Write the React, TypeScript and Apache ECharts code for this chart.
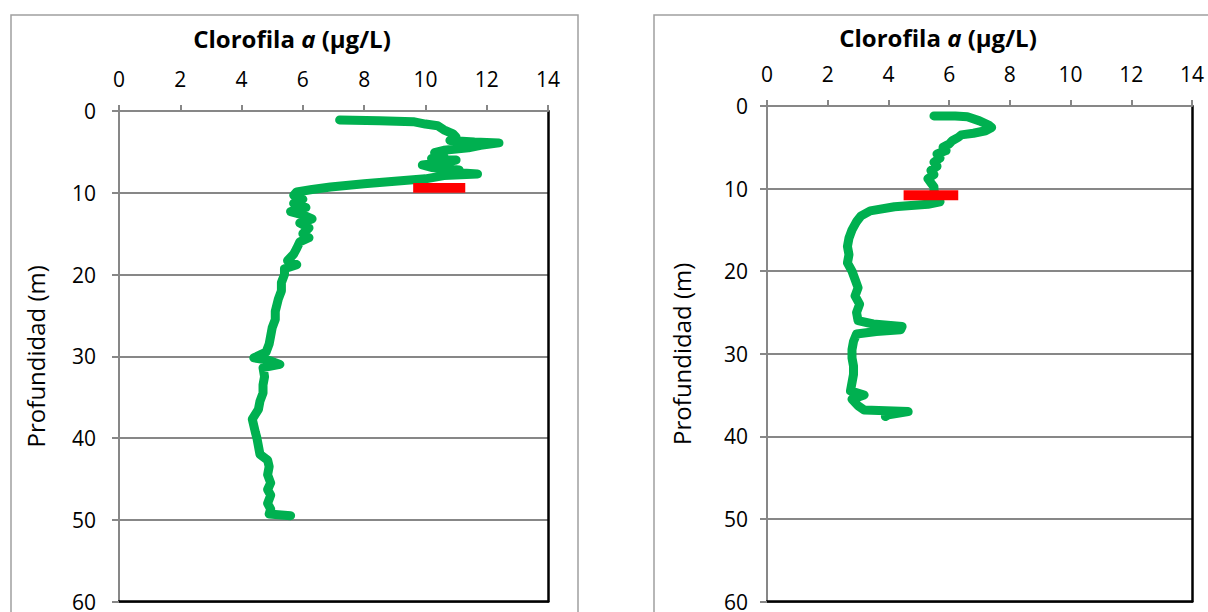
import React, { useEffect, useRef } from "react";
import * as echarts from "echarts";

const xTicksMax = 14;
const depthMax = 60;

const profileLeft: [number, number][] = [
  [7.2, 1.1], [8.5, 1.2], [9.6, 1.3], [10.0, 1.6], [10.4, 1.8], [10.6, 2.3], [10.9, 2.8], [11.0, 3.2],
  [10.8, 3.6], [11.6, 3.8], [12.4, 3.9], [11.8, 4.2], [11.4, 4.5], [10.6, 4.8], [10.3, 5.1], [10.6, 5.5],
  [10.2, 5.8], [11.0, 6.0], [10.6, 6.3], [9.9, 6.6], [10.2, 6.9], [11.1, 7.2], [10.5, 7.4], [11.7, 7.7],
  [10.6, 7.9], [10.0, 8.3], [9.0, 8.6], [8.0, 8.9], [6.9, 9.3], [6.3, 9.6], [5.8, 9.9], [5.7, 10.3],
  [6.0, 10.8], [5.7, 11.3], [6.1, 11.8], [5.6, 12.3], [6.0, 12.7], [6.3, 13.2], [5.9, 13.7], [6.2, 14.3],
  [6.0, 15.0], [6.2, 15.5], [5.9, 16.0], [5.8, 16.8], [5.7, 17.5], [5.5, 18.3], [5.8, 18.8], [5.4, 19.3],
  [5.4, 20.0], [5.3, 21.0], [5.3, 22.0], [5.2, 23.0], [5.1, 24.5], [5.1, 25.5], [5.0, 26.5], [4.95, 27.5],
  [4.9, 28.5], [4.8, 29.5], [4.4, 30.2], [4.9, 30.5], [5.25, 31.0], [4.7, 31.4], [4.75, 32.5], [4.7, 33.5],
  [4.7, 34.5], [4.6, 35.5], [4.55, 36.5], [4.35, 37.7], [4.4, 38.5], [4.45, 39.3], [4.5, 40.0], [4.55, 41.0],
  [4.6, 42.0], [4.85, 42.7], [4.9, 43.5], [4.85, 44.5], [4.95, 45.5], [4.85, 46.3], [4.95, 47.0], [4.85, 48.0],
  [4.95, 48.7], [4.9, 49.3], [5.6, 49.5],
];

const profileRight: [number, number][] = [
  [5.5, 1.2], [6.2, 1.2], [6.6, 1.3], [7.0, 1.8], [7.3, 2.3], [7.4, 2.6], [7.2, 3.0], [6.8, 3.3],
  [6.4, 3.5], [6.3, 3.8], [6.1, 4.2], [6.0, 4.6], [5.8, 5.0], [5.9, 5.4], [5.6, 5.8], [5.7, 6.3],
  [5.5, 6.8], [5.6, 7.3], [5.4, 7.8], [5.5, 8.3], [5.3, 8.8], [5.4, 9.3], [5.5, 9.8], [5.5, 10.3],
  [5.6, 11.0], [5.7, 11.6], [5.3, 11.9], [4.2, 12.2], [3.4, 12.7], [3.1, 13.3], [2.95, 14.0], [2.8, 15.0],
  [2.7, 16.0], [2.65, 17.0], [2.7, 18.0], [2.65, 19.0], [2.8, 20.0], [2.9, 21.0], [3.0, 22.0], [2.9, 23.0],
  [3.05, 24.0], [2.95, 25.0], [3.0, 26.0], [3.5, 26.4], [4.45, 26.7], [4.4, 27.1], [3.6, 27.3], [2.95, 27.6],
  [2.85, 28.5], [2.8, 29.5], [2.8, 30.5], [2.85, 31.5], [2.85, 32.5], [2.8, 33.5], [2.75, 34.5], [3.2, 35.0],
  [2.8, 35.5], [3.0, 36.3], [3.2, 36.8], [4.65, 37.0], [4.0, 37.4], [3.9, 37.6],
];

// [xStart, depthTop, xEnd, depthBottom]
const redBarLeft: number[] = [9.6, 8.8, 11.3, 10.0];
const redBarRight: number[] = [4.5, 10.2, 6.3, 11.4];

const FONT = "Open Sans";
const GRAY = "#878787";
const GREEN = "#00B050";
const TICK_FS = 21;

function mainX(gridIndex: number, margin: number) {
  return {
    type: "value", gridIndex, position: "top", min: 0, max: xTicksMax, interval: 2,
    axisLine: { show: true, lineStyle: { color: GRAY, width: 2 } },
    axisTick: { show: true, inside: false, length: 6, lineStyle: { color: GRAY, width: 2 } },
    axisLabel: { show: true, margin, fontFamily: FONT, fontSize: TICK_FS, color: "#000" },
    splitLine: { show: false },
  };
}
function borderX(gridIndex: number) {
  return {
    type: "value", gridIndex, position: "bottom", min: 0, max: xTicksMax,
    axisLine: { show: true, onZero: false, lineStyle: { color: "#000", width: 2.5 } },
    axisTick: { show: false }, axisLabel: { show: false }, splitLine: { show: false },
  };
}
function mainY(gridIndex: number, nameGap: number, labelMargin: number) {
  return {
    type: "value", gridIndex, position: "left", inverse: true, min: 0, max: depthMax, interval: 10,
    name: "Profundidad (m)", nameLocation: "middle", nameGap,
    nameTextStyle: { fontFamily: FONT, fontSize: 24, color: "#000" },
    axisLine: { show: true, onZero: false, lineStyle: { color: GRAY, width: 2 } },
    axisTick: { show: true, inside: false, length: 7, lineStyle: { color: GRAY, width: 2 } },
    axisLabel: { show: true, margin: labelMargin, fontFamily: FONT, fontSize: TICK_FS, color: "#000" },
    splitLine: { show: true, lineStyle: { color: GRAY, width: 2 } },
  };
}
function borderY(gridIndex: number) {
  return {
    type: "value", gridIndex, position: "right", inverse: true, min: 0, max: depthMax,
    axisLine: { show: true, onZero: false, lineStyle: { color: "#000", width: 2.5 } },
    axisTick: { show: false }, axisLabel: { show: false }, splitLine: { show: false },
  };
}

function barSeries(bar: number[], xAxisIndex: number, yAxisIndex: number) {
  return {
    type: "custom", xAxisIndex, yAxisIndex, z: 5, silent: true,
    data: [bar],
    renderItem: (params: any, api: any) => {
      const p1 = api.coord([api.value(0), api.value(1)]);
      const p2 = api.coord([api.value(2), api.value(3)]);
      return {
        type: "rect",
        shape: { x: p1[0], y: p1[1], width: p2[0] - p1[0], height: p2[1] - p1[1] },
        style: { fill: "#FF0000" },
      };
    },
  };
}

function lineSeries(data: [number, number][], xAxisIndex: number, yAxisIndex: number) {
  return {
    type: "line", xAxisIndex, yAxisIndex, data, showSymbol: false, symbol: "none",
    z: 3, silent: true,
    lineStyle: { color: GREEN, width: 9, cap: "round", join: "round" },
  };
}

const titleText = "{b|Clorofila }{i|a}{b| (µg/L)}";
const titleRich = {
  b: { fontFamily: FONT, fontWeight: "bold", fontSize: 24, fill: "#000", color: "#000" },
  i: { fontFamily: FONT, fontWeight: "bold", fontStyle: "italic", fontSize: 24, fill: "#000", color: "#000" },
};

export default function App() {
  const ref = useRef<HTMLDivElement>(null);
  useEffect(() => {
    if (!ref.current) return;
    const chart = echarts.init(ref.current, null, { renderer: "svg" });
    chart.setOption({
      animation: false,
      backgroundColor: "#fff",
      grid: [
        { left: 119, top: 111, width: 429, height: 491, containLabel: false },
        { left: 767, top: 106, width: 425, height: 496, containLabel: false },
      ],
      xAxis: [mainX(0, 22), borderX(0), mainX(1, 22), borderX(1)],
      yAxis: [mainY(0, 72, 23), borderY(0), mainY(1, 74, 19), borderY(1)],
      series: [
        lineSeries(profileLeft, 0, 0),
        barSeries(redBarLeft, 0, 0),
        lineSeries(profileRight, 2, 2),
        barSeries(redBarRight, 2, 2),
      ],
      graphic: [
        { type: "rect", shape: { x: 11, y: 15, width: 567, height: 610 }, style: { fill: "none", stroke: "#a0a0a0", lineWidth: 1.5 }, silent: true },
        { type: "rect", shape: { x: 654, y: 15, width: 570, height: 610 }, style: { fill: "none", stroke: "#a0a0a0", lineWidth: 1.5 }, silent: true },
        { type: "text", x: 292, y: 38, style: { text: titleText, rich: titleRich, align: "center", verticalAlign: "middle" }, silent: true },
        { type: "text", x: 938, y: 37, style: { text: titleText, rich: titleRich, align: "center", verticalAlign: "middle" }, silent: true },
      ],
    });
    return () => chart.dispose();
  }, []);
  return (
    <div
      ref={ref}
      style={{ position: "fixed", left: 0, top: 0, width: 1208, height: 612 }}
    />
  );
}
